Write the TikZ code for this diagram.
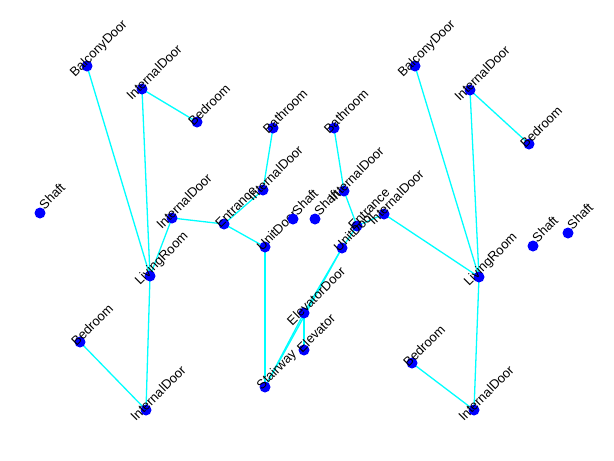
\documentclass[tikz,border=0pt]{standalone}
\usepackage{fontspec}
\setmainfont{Liberation Sans}
\usetikzlibrary{positioning, backgrounds}
\definecolor{dotblue}{HTML}{0000FF}
\definecolor{linkcyan}{HTML}{00FFFF}

\begin{document}
\begin{tikzpicture}[
x=1pt, y=-1pt,
room/.style={
circle,
fill=dotblue,
inner sep=0pt,
minimum size=11pt
},
lbl/.style={
xshift=12pt,
yshift=17pt,
rotate=45,
inner sep=0pt,
font=\fontsize{13}{15}\selectfont
},
link/.style={draw=linkcyan, line width=1.3pt}
]
\useasboundingbox (0,0) rectangle (614,461);

% left unit
\node[room, label={[lbl]center:BalconyDoor}] (balconyL) at (87,66) {};
\node[room, label={[lbl]center:InternalDoor}] (idoorLa) at (142,89) {};
\node[room, label={[lbl]center:Bedroom}] (bedLa) at (197,122) {};
\node[room, label={[lbl]center:Shaft}] (shaftLa) at (40,213) {};
\node[room, label={[lbl]center:InternalDoor}] (idoorLb) at (172,218) {};
\node[room, label={[lbl]center:Entrance}] (entrL) at (224,224) {};
\node[room, label={[lbl]center:InternalDoor}] (idoorLc) at (263,190) {};
\node[room, label={[lbl]center:Bathroom}] (bathL) at (273,128) {};
\node[room, label={[lbl]center:UnitDoor}] (unitL) at (265,247) {};
\node[room, label={[lbl]center:Shaft}] (shaftLb) at (293,219) {};
\node[room, label={[lbl]center:LivingRoom}] (livingL) at (150,276) {};
\node[room, label={[lbl]center:Bedroom}] (bedLb) at (80,342) {};
\node[room, label={[lbl]center:InternalDoor}] (idoorLd) at (146,410) {};

% core
\node[room, label={[lbl]center:Shaft}] (shaftC) at (315,219) {};
\node[room, label={[lbl]center:ElevatorDoor}] (elevdoor) at (304,313) {};
\node[room, label={[lbl]center:Elevator}] (elevator) at (304,350) {};
\node[room, label={[lbl]center:Stairway}] (stairs) at (265,387) {};

% right unit
\node[room, label={[lbl]center:BalconyDoor}] (balconyR) at (415,66) {};
\node[room, label={[lbl]center:InternalDoor}] (idoorRa) at (470,90) {};
\node[room, label={[lbl]center:Bedroom}] (bedRa) at (529,144) {};
\node[room, label={[lbl]center:Bathroom}] (bathR) at (334,128) {};
\node[room, label={[lbl]center:InternalDoor}] (idoorRc) at (344,191) {};
\node[room, label={[lbl]center:Entrance}] (entrR) at (357,226) {};
\node[room, label={[lbl]center:UnitDoor}] (unitR) at (342,248) {};
\node[room, label={[lbl]center:InternalDoor}] (idoorRb) at (384,214) {};
\node[room, label={[lbl]center:LivingRoom}] (livingR) at (479,277) {};
\node[room, label={[lbl]center:Shaft}] (shaftRa) at (533,246) {};
\node[room, label={[lbl]center:Shaft}] (shaftRb) at (568,233) {};
\node[room, label={[lbl]center:Bedroom}] (bedRb) at (412,363) {};
\node[room, label={[lbl]center:InternalDoor}] (idoorRd) at (474,410) {};

% links
\begin{scope}[on background layer]
\draw[link] (balconyL.center) -- (livingL.center);
\draw[link] (idoorLa.center) -- (livingL.center);
\draw[link] (idoorLa.center) -- (bedLa.center);
\draw[link] (idoorLb.center) -- (livingL.center);
\draw[link] (idoorLb.center) -- (entrL.center);
\draw[link] (entrL.center) -- (idoorLc.center);
\draw[link] (idoorLc.center) -- (bathL.center);
\draw[link] (entrL.center) -- (unitL.center);
\draw[link] (unitL.center) -- (stairs.center);
\draw[link] (livingL.center) -- (idoorLd.center);
\draw[link] (bedLb.center) -- (idoorLd.center);

\draw[link] (elevdoor.center) -- (elevator.center);
\draw[link] (elevdoor.center) -- (stairs.center);
\draw[link] (stairs.center) -- (unitR.center);
\draw[link] (elevdoor.center) -- (unitR.center);

\draw[link] (balconyR.center) -- (livingR.center);
\draw[link] (idoorRa.center) -- (livingR.center);
\draw[link] (idoorRa.center) -- (bedRa.center);
\draw[link] (bathR.center) -- (idoorRc.center);
\draw[link] (idoorRc.center) -- (entrR.center);
\draw[link] (entrR.center) -- (unitR.center);
\draw[link] (entrR.center) -- (idoorRb.center);
\draw[link] (idoorRb.center) -- (livingR.center);
\draw[link] (livingR.center) -- (idoorRd.center);
\draw[link] (bedRb.center) -- (idoorRd.center);
\end{scope}

\end{tikzpicture}
\end{document}
